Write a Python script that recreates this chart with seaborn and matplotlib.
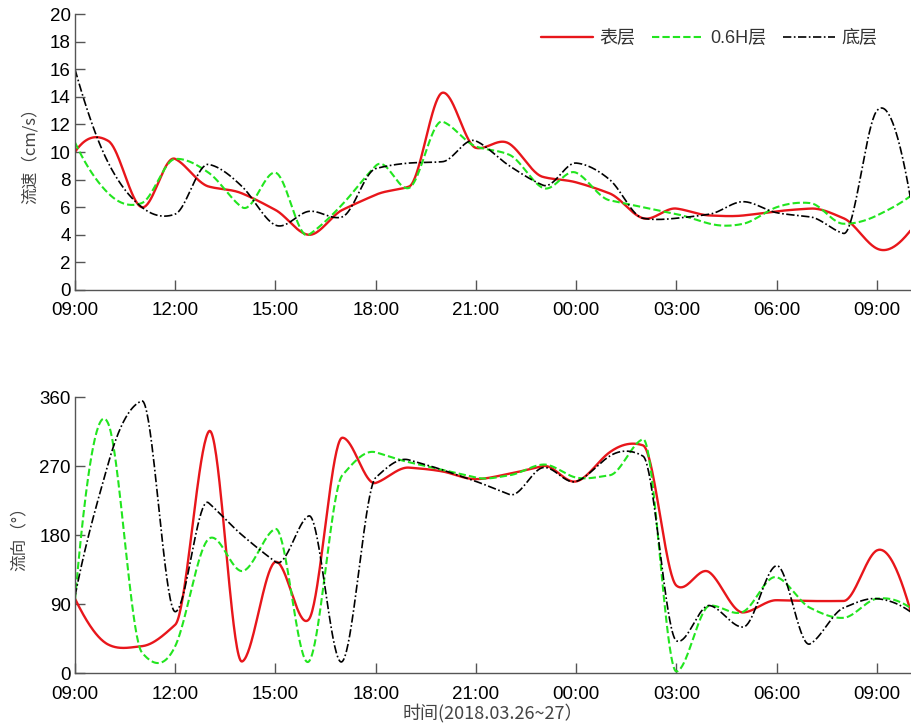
import numpy as np
import pandas as pd
import matplotlib
matplotlib.use("Agg")
import matplotlib.pyplot as plt
import seaborn as sns

# hourly readings, 09:00 (26th) .. 10:00 (27th)
hours = list(range(26))
tick_hours = [0, 3, 6, 9, 12, 15, 18, 21, 24]
tick_labels = ["09:00", "12:00", "15:00", "18:00", "21:00", "00:00", "03:00", "06:00", "09:00"]

# speed (cm/s)
speed_surface = [10.0, 10.8, 6.0, 9.5, 7.5, 7.0, 5.8, 4.0, 5.8, 6.9, 7.5, 14.3, 10.3,
                 10.6, 8.2, 7.8, 7.0, 5.2, 5.9, 5.4, 5.4, 5.7, 5.9, 5.2, 3.0, 4.3]
speed_06h = [10.7, 7.0, 6.3, 9.5, 8.5, 6.0, 8.5, 4.0, 6.2, 9.0, 7.4, 12.2, 10.4,
             9.8, 7.4, 8.5, 6.5, 6.0, 5.5, 4.8, 4.8, 6.0, 6.3, 4.8, 5.4, 6.8]
speed_bottom = [16.0, 9.2, 6.0, 5.5, 9.1, 7.5, 4.7, 5.7, 5.3, 8.8, 9.2, 9.3, 10.8,
                9.0, 7.6, 9.2, 8.0, 5.2, 5.2, 5.5, 6.4, 5.6, 5.3, 4.1, 13.0, 6.7]

# direction (deg)
dir_surface = [97, 37, 35, 63, 315, 15, 145, 70, 307, 248, 268, 263, 253,
               260, 270, 250, 288, 297, 114, 131, 79, 95, 94, 94, 160, 82]
dir_06h = [95, 325, 27, 35, 175, 133, 188, 15, 258, 288, 275, 265, 255,
           258, 272, 255, 258, 305, 2, 88, 80, 125, 85, 72, 97, 85]
dir_bottom = [100, 274, 355, 80, 222, 180, 145, 205, 15, 255, 278, 265, 250,
              233, 268, 250, 283, 283, 42, 88, 60, 140, 38, 85, 97, 80]

layer_names = ["表层", "0.6H层", "底层"]


def akima(x, y, xn):
    # smooth curve through the points (Akima spline, no overshoot on flats)
    x = np.asarray(x, float)
    y = np.asarray(y, float)
    n = len(x)
    m = np.diff(y) / np.diff(x)
    mm = np.empty(n + 3)
    mm[2:n + 1] = m
    mm[1] = 2 * mm[2] - mm[3]
    mm[0] = 2 * mm[1] - mm[2]
    mm[n + 1] = 2 * mm[n] - mm[n - 1]
    mm[n + 2] = 2 * mm[n + 1] - mm[n]
    t = np.empty(n)
    for i in range(n):
        w1 = abs(mm[i + 3] - mm[i + 2])
        w2 = abs(mm[i + 1] - mm[i])
        if w1 + w2 == 0:
            t[i] = 0.5 * (mm[i + 1] + mm[i + 2])
        else:
            t[i] = (w1 * mm[i + 1] + w2 * mm[i + 2]) / (w1 + w2)
    idx = np.clip(np.searchsorted(x, xn) - 1, 0, n - 2)
    h = x[idx + 1] - x[idx]
    s = (xn - x[idx]) / h
    h00 = 2 * s**3 - 3 * s**2 + 1
    h10 = s**3 - 2 * s**2 + s
    h01 = -2 * s**3 + 3 * s**2
    h11 = s**3 - s**2
    return h00 * y[idx] + h10 * h * t[idx] + h01 * y[idx + 1] + h11 * h * t[idx + 1]


sns.set_style("ticks")
plt.rcParams["font.family"] = ["Liberation Sans", "Noto Sans CJK SC", "DejaVu Sans"]

fig = plt.figure(figsize=(9.12, 7.26), dpi=100)
ax1 = fig.add_axes([0.0822, 0.6006, 0.916, 0.380])
ax2 = fig.add_axes([0.0822, 0.0730, 0.916, 0.380])

styles = [
    dict(color="#e8161b", linestyle="-", linewidth=1.7),
    dict(color="#22e51f", linestyle=(0, (3.5, 1.5)), linewidth=1.5),
    dict(color="black", linestyle=(0, (5, 1.5, 1, 1.5)), linewidth=1.2),
]

xs = np.linspace(0, 25, 1001)

for ax, series in [(ax1, [speed_surface, speed_06h, speed_bottom]),
                   (ax2, [dir_surface, dir_06h, dir_bottom])]:
    for name, vals, st in zip(layer_names, series, styles):
        df = pd.DataFrame({"t": xs, "v": akima(hours, vals, xs)})
        sns.lineplot(data=df, x="t", y="v", ax=ax, label=name, **st)
    ax.set_xlim(0, 25)
    ax.set_xticks(tick_hours)
    ax.set_xticklabels(tick_labels)
    for side in ["top", "right"]:
        ax.spines[side].set_visible(False)
    for side in ["left", "bottom"]:
        ax.spines[side].set_color("#555555")
        ax.spines[side].set_linewidth(1.0)
    ax.tick_params(direction="in", length=7, width=1, color="#555555",
                   labelsize=13.5, labelcolor="black", pad=3)
    ax.tick_params(axis="x", pad=9)

ax1.set_ylim(0, 20)
ax1.set_yticks(range(0, 21, 2))
ax1.set_xlabel("")
ax1.set_ylabel("流速（cm/s）", fontsize=12, color="#444444", labelpad=8,
               family=["Noto Sans CJK SC", "DejaVu Sans"])
ax1.legend(loc="upper right", bbox_to_anchor=(0.98, 1.0), ncol=3, frameon=False,
           fontsize=13, handlelength=2.9, columnspacing=0.9, handletextpad=0.35,
           labelcolor="#333333")

ax2.set_ylim(0, 360)
ax2.set_yticks(range(0, 361, 90))
ax2.set_ylabel("流向（°）", fontsize=12, color="#444444", labelpad=8,
               family=["Noto Sans CJK SC", "DejaVu Sans"])
ax2.set_xlabel("时间(2018.03.26~27）", fontsize=13, color="#444444", labelpad=1,
               family=["Noto Sans CJK SC", "DejaVu Sans"])
ax2.get_legend().remove()

fig.savefig("out.png", dpi=100)
